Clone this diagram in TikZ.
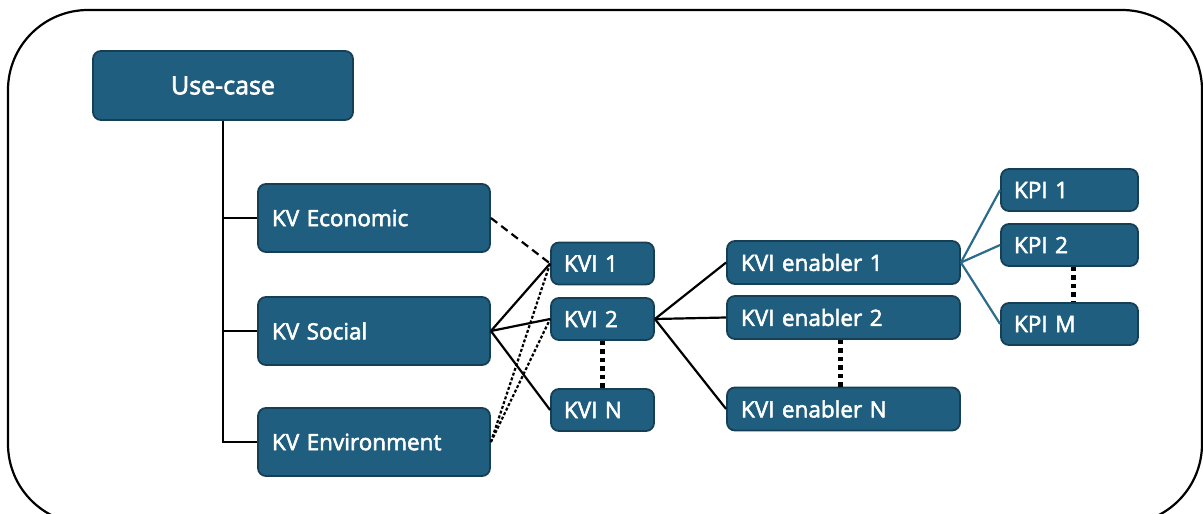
\documentclass[tikz,border=0pt]{standalone}
\usepackage{fontspec}
\setmainfont{Open Sans}[FakeBold=2.4]
\definecolor{boxfill}{HTML}{1F5E7E}
\definecolor{boxline}{HTML}{163F55}
\definecolor{kpiline}{HTML}{2B6C8C}

\begin{document}
\begin{tikzpicture}
[every node/.style={inner sep=0pt},
 card/.style={rectangle, rounded corners=8pt, fill=boxfill, draw=boxline, line width=1.8pt, text=white, font=\fontsize{22.5pt}{26pt}\selectfont},
 kvbox/.style={card, minimum width=232pt, minimum height=68pt, text width=204pt, align=left},
 kvibox/.style={card, minimum width=103pt, minimum height=42pt, text width=77pt, align=left},
 enbox/.style={card, minimum width=233pt, minimum height=43pt, text width=205pt, align=left},
 kpibox/.style={card, minimum width=137pt, minimum height=42pt, text width=111pt, align=left},
 link/.style={line width=2.2pt, color=black},
 dots/.style={line width=4.5pt, dash pattern=on 4.5pt off 4pt, color=black}]
\useasboundingbox (0pt, 0pt) rectangle (1203pt, -514pt);
\clip (0pt, 0pt) rectangle (1203pt, -514pt);
\draw [line width=2.2pt, rounded corners=80pt] (8pt, -10pt) rectangle (1202pt, -524pt);
\node (usecase) [card, minimum width=260pt, minimum height=69pt, font=\fontsize{25pt}{28pt}\selectfont] at (223pt, -85.5pt) {Use-case};
\node (kveco) [kvbox] at (374pt, -218pt) {KV Economic};
\node (kvsoc) [kvbox] at (374pt, -331pt) {KV Social};
\node (kvenv) [kvbox] at (374pt, -442pt) {KV Environment};
\node (kvi1) [kvibox] at (602.5pt, -263.5pt) {KVI 1};
\node (kvi2) [kvibox] at (602.5pt, -319pt) {KVI 2};
\node (kvin) [kvibox] at (602.5pt, -410pt) {KVI N};
\node (en1) [enbox] at (843.5pt, -262.5pt) {KVI enabler 1};
\node (en2) [enbox] at (843.5pt, -317.5pt) {KVI enabler 2};
\node (enn) [enbox] at (843.5pt, -409pt) {KVI enabler N};
\node (kpi1) [kpibox] at (1069.5pt, -190pt) {KPI 1};
\node (kpi2) [kpibox] at (1069.5pt, -245pt) {KPI 2};
\node (kpim) [kpibox] at (1069.5pt, -324pt) {KPI M};
% tree from the use-case
\draw [link] (usecase.south) |- (kvenv.west);
\draw [link] (usecase.south |- kveco.west) -- (kveco.west);
\draw [link] (usecase.south |- kvsoc.west) -- (kvsoc.west);
% values to indicators
\draw [link, dash pattern=on 8pt off 5pt] (kveco.east) -- (kvi1.west);
\draw [link] (kvsoc.east) -- (kvi1.west);
\draw [link] (kvsoc.east) -- (kvi2.west);
\draw [link] (kvsoc.east) -- (kvin.west);
\draw [link, dash pattern=on 3pt off 2pt] (kvenv.east) -- (kvi1.west);
\draw [link, dash pattern=on 3pt off 2pt] (kvenv.east) -- (kvi2.west);
% indicators to enablers
\draw [link] (kvi2.east) -- (en1.west);
\draw [link] (kvi2.east) -- (en2.west);
\draw [link] (kvi2.east) -- (enn.west);
\draw [link, color=kpiline] (en1.east) -- (kpi1.west);
\draw [link, color=kpiline] (en1.east) -- (kpi2.west);
\draw [link, color=kpiline] (en1.east) -- (kpim.west);
% ellipsis dots
\draw [dots] (kvi2.south) -- (kvin.north);
\draw [dots] ([xshift=-3pt]en2.south) -- ([xshift=-3pt]enn.north);
\draw [dots] ([xshift=4pt]kpi2.south) -- ([xshift=4pt]kpim.north);
\end{tikzpicture}
\end{document}
